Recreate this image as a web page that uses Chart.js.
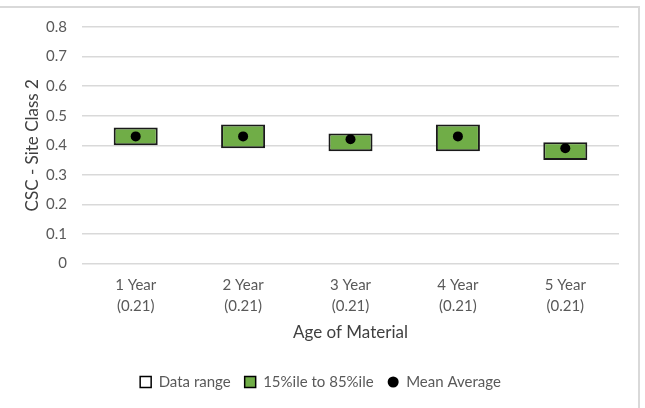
<!DOCTYPE html>
<html>
<head>
<meta charset="utf-8">
<script src="https://cdn.jsdelivr.net/npm/chart.js@4/dist/chart.umd.min.js"></script>
<style>
  html, body { margin: 0; padding: 0; background: #ffffff; }
  #wrap { width: 645px; height: 408px; position: relative; }
</style>
</head>
<body>
<div id="wrap"><canvas id="chart" width="645" height="408"></canvas></div>
<script>
// Age groups and the figure printed under each one
const ages = ['1 Year', '2 Year', '3 Year', '4 Year', '5 Year'];
const ageNotes = ['(0.21)', '(0.21)', '(0.21)', '(0.21)', '(0.21)'];

// CSC, site class 2: percentile band and mean per age group
const p15 = [0.40, 0.39, 0.38, 0.38, 0.35];
const p85 = [0.46, 0.47, 0.44, 0.47, 0.41];
const means = [0.43, 0.43, 0.42, 0.43, 0.39];

// Full data range has no values plotted in this view (legend entry only)
const rangeMin = [];
const rangeMax = [];

const yMin = 0, yMax = 0.8, yStep = 0.1;

const FONT = 'Lato, "Open Sans", "Liberation Sans", sans-serif';
const GREY_TEXT = '#595959';
const GREEN = '#70AD47';

const labels = ages.map((a, i) => [a, ageNotes[i]]);
const bandData = p15.map((lo, i) => [lo, p85[i]]);
const rangeData = rangeMin.map((lo, i) => [lo, rangeMax[i]]);

// Light frame along the top and right edges
const framePlugin = {
  id: 'frame',
  beforeDraw(chart) {
    const ctx = chart.ctx;
    ctx.save();
    ctx.strokeStyle = '#d9d9d9';
    ctx.lineWidth = 2;
    ctx.beginPath();
    ctx.moveTo(0, 7);
    ctx.lineTo(639, 7);
    ctx.lineTo(639, chart.height);
    ctx.stroke();
    ctx.restore();
  }
};

new Chart(document.getElementById('chart'), {
  data: {
    labels: labels,
    datasets: [
      {
        type: 'bar',
        label: 'Data range',
        data: rangeData,
        backgroundColor: '#ffffff',
        borderColor: '#000000',
        borderWidth: 1.5,
        borderSkipped: false,
        grouped: false,
        categoryPercentage: 1,
        barPercentage: 0.41,
        order: 2
      },
      {
        type: 'bar',
        label: '15%ile to 85%ile',
        data: bandData,
        backgroundColor: GREEN,
        borderColor: '#1a1a1a',
        borderWidth: 2,
        borderSkipped: false,
        grouped: false,
        categoryPercentage: 1,
        barPercentage: 0.41,
        order: 1
      },
      {
        type: 'line',
        label: 'Mean Average',
        data: means,
        showLine: false,
        pointStyle: 'circle',
        pointRadius: 5,
        pointHoverRadius: 5,
        pointBackgroundColor: '#000000',
        pointBorderColor: '#000000',
        pointBorderWidth: 0,
        order: 0
      }
    ]
  },
  options: {
    responsive: false,
    animation: false,
    events: [],
    layout: { padding: { top: 27, right: 26, left: 22, bottom: 8.5 } },
    plugins: {
      tooltip: { enabled: false },
      legend: {
        position: 'bottom',
        align: 'center',
        labels: {
          color: GREY_TEXT,
          font: { family: FONT, size: 15 },
          boxWidth: 11,
          boxHeight: 11,
          padding: 14,
          useBorderRadius: true,
          generateLabels(chart) {
            return chart.data.datasets.map((ds, i) => {
              const isMean = ds.type === 'line';
              return {
                text: ds.label,
                datasetIndex: i,
                fillStyle: isMean ? '#000000' : ds.backgroundColor,
                strokeStyle: '#000000',
                lineWidth: isMean ? 0 : 1.5,
                borderRadius: isMean ? 5.5 : 0,
                fontColor: GREY_TEXT,
                hidden: false
              };
            });
          }
        }
      }
    },
    scales: {
      x: {
        type: 'category',
        offset: true,
        grid: { display: false, drawTicks: false },
        border: { display: false },
        ticks: {
          color: GREY_TEXT,
          font: { family: FONT, size: 15, lineHeight: 1.4 },
          padding: 11,
          maxRotation: 0,
          autoSkip: false
        },
        title: {
          display: true,
          text: 'Age of Material',
          color: '#404040',
          font: { family: FONT, size: 17 },
          padding: { top: 7, bottom: 18 }
        },
        afterFit(scale) { scale.height = 97; }
      },
      y: {
        min: yMin,
        max: yMax,
        grid: { color: '#d9d9d9', lineWidth: 1.5, drawTicks: false },
        border: { display: false },
        ticks: {
          stepSize: yStep,
          color: GREY_TEXT,
          font: { family: FONT, size: 15 },
          padding: 15
        },
        title: {
          display: true,
          text: 'CSC - Site Class 2',
          color: '#404040',
          font: { family: FONT, size: 17 },
          padding: { top: 0, bottom: 0 }
        },
        afterFit(scale) { scale.width = 60; }
      }
    }
  },
  plugins: [framePlugin]
});
</script>
</body>
</html>
